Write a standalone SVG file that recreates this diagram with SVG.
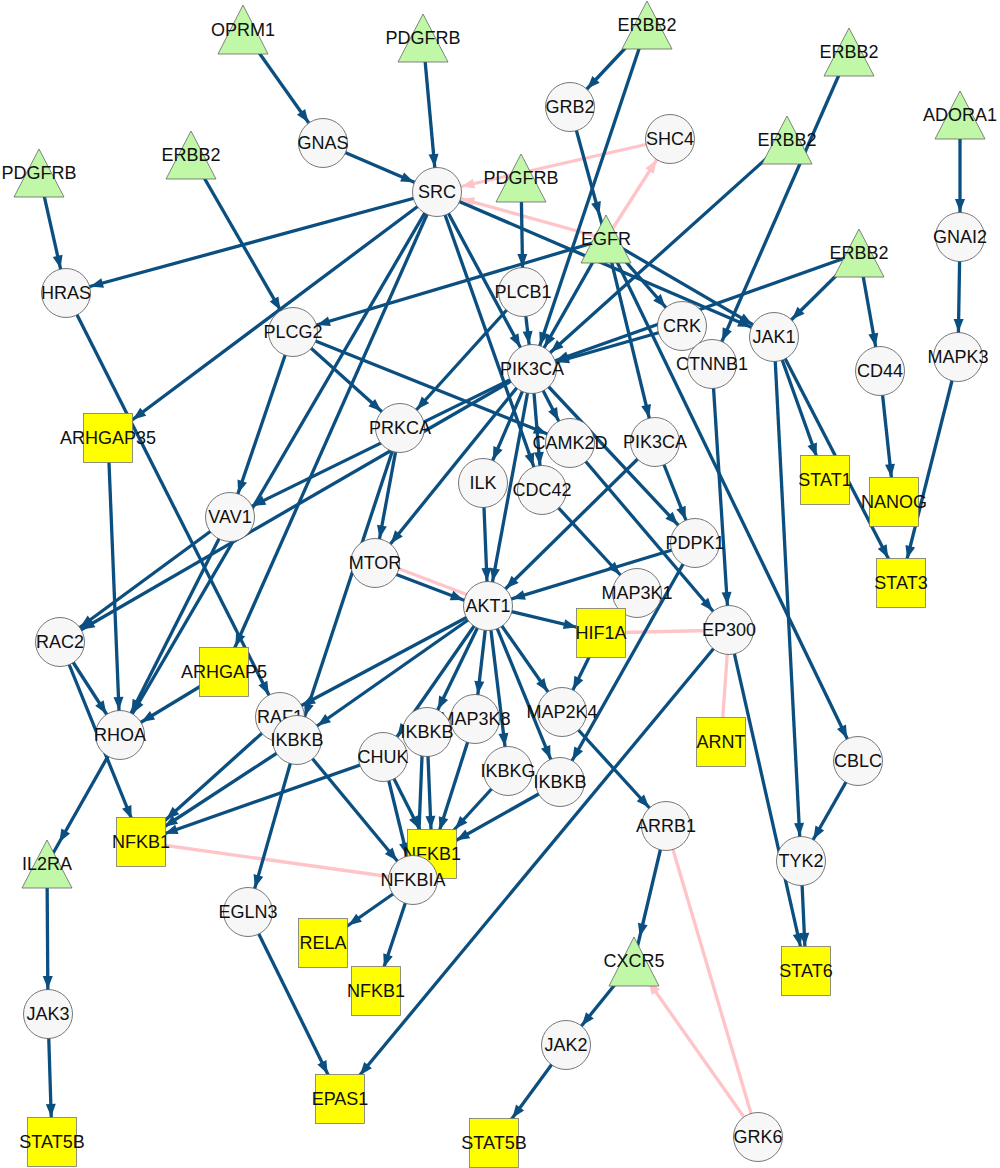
<svg xmlns="http://www.w3.org/2000/svg" width="1000" height="1168" viewBox="0 0 1000 1168">
<style>
.e line{stroke:#0b4f80;stroke-width:3.3;fill:none}
.p line{stroke:#ffc4c8;stroke-width:3.3;fill:none}
.c{fill:#f7f7f7;stroke:#555;stroke-width:0.8}
.s{fill:#ffff00;stroke:#777;stroke-width:0.8}
.t{fill:#c0f8a8;stroke:#666;stroke-width:0.8}
text{font-family:"Liberation Sans",Arial,sans-serif;font-size:18px;fill:#111;text-anchor:middle;dominant-baseline:central}
</style>
<defs>
<marker id="a25" markerUnits="userSpaceOnUse" markerWidth="14" markerHeight="11" refX="38" refY="5" orient="auto" overflow="visible"><path d="M0,0L13,5L0,10z" fill="#0b4f80"/></marker>
<marker id="a28" markerUnits="userSpaceOnUse" markerWidth="14" markerHeight="11" refX="41" refY="5" orient="auto" overflow="visible"><path d="M0,0L13,5L0,10z" fill="#0b4f80"/></marker>
<marker id="a31" markerUnits="userSpaceOnUse" markerWidth="14" markerHeight="11" refX="44" refY="5" orient="auto" overflow="visible"><path d="M0,0L13,5L0,10z" fill="#0b4f80"/></marker>
<marker id="a34" markerUnits="userSpaceOnUse" markerWidth="14" markerHeight="11" refX="47" refY="5" orient="auto" overflow="visible"><path d="M0,0L13,5L0,10z" fill="#0b4f80"/></marker>
<marker id="p25" markerUnits="userSpaceOnUse" markerWidth="14" markerHeight="11" refX="38" refY="5" orient="auto" overflow="visible"><path d="M0,0L13,5L0,10z" fill="#ffc4c8"/></marker>
</defs>
<g id="connectors">
<g class="p">
<line x1="670" y1="139" x2="437" y2="192" marker-end="url(#p25)"/>
<line x1="606" y1="239" x2="437" y2="192" marker-end="url(#p25)"/>
<line x1="606" y1="239" x2="670" y2="139" marker-end="url(#p25)"/>
<line x1="601" y1="633" x2="729" y2="630"/>
<line x1="729" y1="630" x2="721" y2="742"/>
<line x1="141" y1="842" x2="413" y2="880"/>
<line x1="758" y1="1137" x2="634" y2="961" marker-end="url(#p25)"/>
<line x1="758" y1="1137" x2="666" y2="826"/>
<line x1="376" y1="560" x2="489" y2="603"/>
</g>
<g class="e">
<line x1="243" y1="30" x2="323" y2="143" marker-end="url(#a25)"/>
<line x1="323" y1="143" x2="437" y2="192" marker-end="url(#a25)"/>
<line x1="423" y1="38" x2="437" y2="192" marker-end="url(#a25)"/>
<line x1="647" y1="25" x2="570" y2="107" marker-end="url(#a25)"/>
<line x1="647" y1="25" x2="532" y2="369" marker-end="url(#a25)"/>
<line x1="570" y1="107" x2="606" y2="239" marker-end="url(#a25)"/>
<line x1="849" y1="52" x2="712" y2="364" marker-end="url(#a25)"/>
<line x1="787" y1="140" x2="532" y2="369" marker-end="url(#a25)"/>
<line x1="960" y1="115" x2="960" y2="237" marker-end="url(#a25)"/>
<line x1="960" y1="237" x2="958" y2="357" marker-end="url(#a25)"/>
<line x1="958" y1="357" x2="901" y2="583" marker-end="url(#a25)"/>
<line x1="39" y1="173" x2="66" y2="293" marker-end="url(#a25)"/>
<line x1="191" y1="155" x2="293" y2="332" marker-end="url(#a25)"/>
<line x1="521" y1="178" x2="523" y2="292" marker-end="url(#a25)"/>
<line x1="859" y1="253" x2="774" y2="337" marker-end="url(#a25)"/>
<line x1="859" y1="253" x2="880" y2="371" marker-end="url(#a25)"/>
<line x1="859" y1="253" x2="532" y2="369" marker-end="url(#a25)"/>
<line x1="880" y1="371" x2="894" y2="502" marker-end="url(#a25)"/>
<line x1="437" y1="192" x2="66" y2="293" marker-end="url(#a25)"/>
<line x1="437" y1="192" x2="108" y2="438" marker-end="url(#a31)"/>
<line x1="437" y1="192" x2="120" y2="735" marker-end="url(#a25)"/>
<line x1="437" y1="192" x2="224" y2="672" marker-end="url(#a28)"/>
<line x1="437" y1="192" x2="542" y2="490" marker-end="url(#a25)"/>
<line x1="437" y1="192" x2="532" y2="369" marker-end="url(#a25)"/>
<line x1="437" y1="192" x2="774" y2="337" marker-end="url(#a25)"/>
<line x1="606" y1="239" x2="293" y2="332" marker-end="url(#a25)"/>
<line x1="606" y1="239" x2="532" y2="369" marker-end="url(#a25)"/>
<line x1="606" y1="239" x2="682" y2="326" marker-end="url(#a25)"/>
<line x1="606" y1="239" x2="774" y2="337" marker-end="url(#a25)"/>
<line x1="606" y1="239" x2="655" y2="442" marker-end="url(#a25)"/>
<line x1="606" y1="239" x2="858" y2="761" marker-end="url(#a25)"/>
<line x1="66" y1="293" x2="280" y2="717" marker-end="url(#a25)"/>
<line x1="293" y1="332" x2="400" y2="428" marker-end="url(#a25)"/>
<line x1="293" y1="332" x2="230" y2="517" marker-end="url(#a25)"/>
<line x1="293" y1="332" x2="570" y2="443" marker-end="url(#a25)"/>
<line x1="523" y1="292" x2="400" y2="428" marker-end="url(#a25)"/>
<line x1="523" y1="292" x2="532" y2="369" marker-end="url(#a25)"/>
<line x1="682" y1="326" x2="532" y2="369" marker-end="url(#a25)"/>
<line x1="774" y1="337" x2="825" y2="480" marker-end="url(#a25)"/>
<line x1="774" y1="337" x2="901" y2="583" marker-end="url(#a28)"/>
<line x1="774" y1="337" x2="801" y2="861" marker-end="url(#a25)"/>
<line x1="712" y1="364" x2="729" y2="630" marker-end="url(#a25)"/>
<line x1="532" y1="369" x2="230" y2="517" marker-end="url(#a25)"/>
<line x1="532" y1="369" x2="60" y2="642" marker-end="url(#a25)"/>
<line x1="532" y1="369" x2="375" y2="563" marker-end="url(#a25)"/>
<line x1="532" y1="369" x2="483" y2="483" marker-end="url(#a25)"/>
<line x1="532" y1="369" x2="488" y2="606" marker-end="url(#a25)"/>
<line x1="532" y1="369" x2="542" y2="490" marker-end="url(#a25)"/>
<line x1="532" y1="369" x2="570" y2="443" marker-end="url(#a25)"/>
<line x1="532" y1="369" x2="695" y2="543" marker-end="url(#a25)"/>
<line x1="400" y1="428" x2="375" y2="563" marker-end="url(#a25)"/>
<line x1="400" y1="428" x2="297" y2="740" marker-end="url(#a25)"/>
<line x1="570" y1="443" x2="729" y2="630" marker-end="url(#a25)"/>
<line x1="655" y1="442" x2="488" y2="606" marker-end="url(#a25)"/>
<line x1="655" y1="442" x2="695" y2="543" marker-end="url(#a25)"/>
<line x1="483" y1="483" x2="488" y2="606" marker-end="url(#a25)"/>
<line x1="542" y1="490" x2="637" y2="593" marker-end="url(#a25)"/>
<line x1="230" y1="517" x2="60" y2="642" marker-end="url(#a25)"/>
<line x1="230" y1="517" x2="120" y2="735" marker-end="url(#a25)"/>
<line x1="695" y1="543" x2="488" y2="606" marker-end="url(#a25)"/>
<line x1="695" y1="543" x2="560" y2="782" marker-end="url(#a25)"/>
<line x1="374" y1="566" x2="487" y2="609" marker-end="url(#a25)"/>
<line x1="488" y1="606" x2="601" y2="633" marker-end="url(#a25)"/>
<line x1="488" y1="606" x2="280" y2="717" marker-end="url(#a25)"/>
<line x1="488" y1="606" x2="297" y2="740" marker-end="url(#a25)"/>
<line x1="488" y1="606" x2="383" y2="757" marker-end="url(#a25)"/>
<line x1="488" y1="606" x2="427" y2="732" marker-end="url(#a25)"/>
<line x1="488" y1="606" x2="475" y2="719" marker-end="url(#a25)"/>
<line x1="488" y1="606" x2="508" y2="771" marker-end="url(#a25)"/>
<line x1="488" y1="606" x2="560" y2="782" marker-end="url(#a25)"/>
<line x1="488" y1="606" x2="562" y2="712" marker-end="url(#a25)"/>
<line x1="601" y1="633" x2="562" y2="712" marker-end="url(#a25)"/>
<line x1="562" y1="712" x2="666" y2="826" marker-end="url(#a25)"/>
<line x1="729" y1="630" x2="340" y2="1099" marker-end="url(#a31)"/>
<line x1="729" y1="630" x2="806" y2="971" marker-end="url(#a25)"/>
<line x1="60" y1="642" x2="120" y2="735" marker-end="url(#a25)"/>
<line x1="60" y1="642" x2="141" y2="842" marker-end="url(#a25)"/>
<line x1="108" y1="438" x2="120" y2="735" marker-end="url(#a25)"/>
<line x1="224" y1="672" x2="120" y2="735" marker-end="url(#a25)"/>
<line x1="120" y1="735" x2="47" y2="864" marker-end="url(#a25)"/>
<line x1="47" y1="864" x2="48" y2="1014" marker-end="url(#a25)"/>
<line x1="48" y1="1014" x2="52" y2="1142" marker-end="url(#a25)"/>
<line x1="280" y1="717" x2="141" y2="842" marker-end="url(#a34)"/>
<line x1="297" y1="740" x2="141" y2="842" marker-end="url(#a28)"/>
<line x1="383" y1="757" x2="141" y2="842" marker-end="url(#a25)"/>
<line x1="297" y1="740" x2="413" y2="880" marker-end="url(#a25)"/>
<line x1="297" y1="740" x2="248" y2="912" marker-end="url(#a25)"/>
<line x1="383" y1="757" x2="432" y2="854" marker-end="url(#a28)"/>
<line x1="383" y1="757" x2="413" y2="880" marker-end="url(#a25)"/>
<line x1="427" y1="732" x2="432" y2="854" marker-end="url(#a25)"/>
<line x1="423" y1="732" x2="417" y2="880" marker-end="url(#a25)"/>
<line x1="475" y1="719" x2="432" y2="854" marker-end="url(#a25)"/>
<line x1="508" y1="771" x2="432" y2="854" marker-end="url(#a34)"/>
<line x1="560" y1="782" x2="432" y2="854" marker-end="url(#a28)"/>
<line x1="413" y1="880" x2="323" y2="943" marker-end="url(#a31)"/>
<line x1="413" y1="880" x2="376" y2="991" marker-end="url(#a25)"/>
<line x1="248" y1="912" x2="340" y2="1099" marker-end="url(#a28)"/>
<line x1="666" y1="826" x2="634" y2="961" marker-end="url(#a25)"/>
<line x1="634" y1="961" x2="566" y2="1045" marker-end="url(#a25)"/>
<line x1="566" y1="1045" x2="494" y2="1143" marker-end="url(#a31)"/>
<line x1="858" y1="761" x2="801" y2="861" marker-end="url(#a25)"/>
<line x1="801" y1="861" x2="806" y2="971" marker-end="url(#a25)"/>
</g>
</g>
<g id="nodes">
<g id="OPRM1"><polygon class="t" points="243,5 268,54 218,54"/><text x="243" y="30">OPRM1</text></g>
<g id="PDGFRB_1"><polygon class="t" points="423,14 448,62 398,62"/><text x="423" y="38">PDGFRB</text></g>
<g id="ERBB2_1"><polygon class="t" points="647,1 672,49 622,49"/><text x="647" y="25">ERBB2</text></g>
<g id="ERBB2_2"><polygon class="t" points="849,28 874,76 824,76"/><text x="849" y="52">ERBB2</text></g>
<g id="ADORA1"><polygon class="t" points="960,91 985,139 935,139"/><text x="960" y="115">ADORA1</text></g>
<g id="PDGFRB_2"><polygon class="t" points="39,149 64,197 14,197"/><text x="39" y="173">PDGFRB</text></g>
<g id="ERBB2_3"><polygon class="t" points="191,131 216,179 166,179"/><text x="191" y="155">ERBB2</text></g>
<g id="PDGFRB_3"><polygon class="t" points="521,154 546,202 496,202"/><text x="521" y="178">PDGFRB</text></g>
<g id="ERBB2_4"><polygon class="t" points="787,116 812,164 762,164"/><text x="787" y="140">ERBB2</text></g>
<g id="EGFR"><polygon class="t" points="606,215 631,263 581,263"/><text x="606" y="239">EGFR</text></g>
<g id="ERBB2_5"><polygon class="t" points="859,229 884,277 834,277"/><text x="859" y="253">ERBB2</text></g>
<g id="IL2RA"><polygon class="t" points="47,840 72,888 22,888"/><text x="47" y="864">IL2RA</text></g>
<g id="CXCR5"><polygon class="t" points="634,937 659,986 609,986"/><text x="634" y="961">CXCR5</text></g>
<g id="GNAS"><circle class="c" cx="323" cy="143" r="24.5"/><text x="323" y="143">GNAS</text></g>
<g id="GRB2"><circle class="c" cx="570" cy="107" r="24.5"/><text x="570" y="107">GRB2</text></g>
<g id="SHC4"><circle class="c" cx="670" cy="139" r="24.5"/><text x="670" y="139">SHC4</text></g>
<g id="SRC"><circle class="c" cx="437" cy="192" r="24.5"/><text x="437" y="192">SRC</text></g>
<g id="HRAS"><circle class="c" cx="66" cy="293" r="24.5"/><text x="66" y="293">HRAS</text></g>
<g id="PLCB1"><circle class="c" cx="523" cy="292" r="24.5"/><text x="523" y="292">PLCB1</text></g>
<g id="PLCG2"><circle class="c" cx="293" cy="332" r="24.5"/><text x="293" y="332">PLCG2</text></g>
<g id="CRK"><circle class="c" cx="682" cy="326" r="24.5"/><text x="682" y="326">CRK</text></g>
<g id="CTNNB1"><circle class="c" cx="712" cy="364" r="24.5"/><text x="712" y="364">CTNNB1</text></g>
<g id="JAK1"><circle class="c" cx="774" cy="337" r="24.5"/><text x="774" y="337">JAK1</text></g>
<g id="CD44"><circle class="c" cx="880" cy="371" r="24.5"/><text x="880" y="371">CD44</text></g>
<g id="GNAI2"><circle class="c" cx="960" cy="237" r="24.5"/><text x="960" y="237">GNAI2</text></g>
<g id="MAPK3"><circle class="c" cx="958" cy="357" r="24.5"/><text x="958" y="357">MAPK3</text></g>
<g id="PIK3CA_1"><circle class="c" cx="532" cy="369" r="24.5"/><text x="532" y="369">PIK3CA</text></g>
<g id="PRKCA"><circle class="c" cx="400" cy="428" r="24.5"/><text x="400" y="428">PRKCA</text></g>
<g id="CAMK2D"><circle class="c" cx="570" cy="443" r="24.5"/><text x="570" y="443">CAMK2D</text></g>
<g id="PIK3CA_2"><circle class="c" cx="655" cy="442" r="24.5"/><text x="655" y="442">PIK3CA</text></g>
<g id="ILK"><circle class="c" cx="483" cy="483" r="24.5"/><text x="483" y="483">ILK</text></g>
<g id="CDC42"><circle class="c" cx="542" cy="490" r="24.5"/><text x="542" y="490">CDC42</text></g>
<g id="VAV1"><circle class="c" cx="230" cy="517" r="24.5"/><text x="230" y="517">VAV1</text></g>
<g id="PDPK1"><circle class="c" cx="695" cy="543" r="24.5"/><text x="695" y="543">PDPK1</text></g>
<g id="MTOR"><circle class="c" cx="375" cy="563" r="24.5"/><text x="375" y="563">MTOR</text></g>
<g id="MAP3K1"><circle class="c" cx="637" cy="593" r="24.5"/><text x="637" y="593">MAP3K1</text></g>
<g id="AKT1"><circle class="c" cx="488" cy="606" r="24.5"/><text x="488" y="606">AKT1</text></g>
<g id="EP300"><circle class="c" cx="729" cy="630" r="24.5"/><text x="729" y="630">EP300</text></g>
<g id="RAC2"><circle class="c" cx="60" cy="642" r="24.5"/><text x="60" y="642">RAC2</text></g>
<g id="RHOA"><circle class="c" cx="120" cy="735" r="24.5"/><text x="120" y="735">RHOA</text></g>
<g id="RAF1"><circle class="c" cx="280" cy="717" r="24.5"/><text x="280" y="717">RAF1</text></g>
<g id="IKBKB_1"><circle class="c" cx="297" cy="740" r="24.5"/><text x="297" y="740">IKBKB</text></g>
<g id="MAP3K8"><circle class="c" cx="475" cy="719" r="24.5"/><text x="475" y="719">MAP3K8</text></g>
<g id="IKBKB_2"><circle class="c" cx="427" cy="732" r="24.5"/><text x="427" y="732">IKBKB</text></g>
<g id="CHUK"><circle class="c" cx="383" cy="757" r="24.5"/><text x="383" y="757">CHUK</text></g>
<g id="MAP2K4"><circle class="c" cx="562" cy="712" r="24.5"/><text x="562" y="712">MAP2K4</text></g>
<g id="IKBKG"><circle class="c" cx="508" cy="771" r="24.5"/><text x="508" y="771">IKBKG</text></g>
<g id="IKBKB_3"><circle class="c" cx="560" cy="782" r="24.5"/><text x="560" y="782">IKBKB</text></g>
<g id="CBLC"><circle class="c" cx="858" cy="761" r="24.5"/><text x="858" y="761">CBLC</text></g>
<g id="ARRB1"><circle class="c" cx="666" cy="826" r="24.5"/><text x="666" y="826">ARRB1</text></g>
<g id="TYK2"><circle class="c" cx="801" cy="861" r="24.5"/><text x="801" y="861">TYK2</text></g>
<g id="EGLN3"><circle class="c" cx="248" cy="912" r="24.5"/><text x="248" y="912">EGLN3</text></g>
<g id="JAK3"><circle class="c" cx="48" cy="1014" r="24.5"/><text x="48" y="1014">JAK3</text></g>
<g id="JAK2"><circle class="c" cx="566" cy="1045" r="24.5"/><text x="566" y="1045">JAK2</text></g>
<g id="GRK6"><circle class="c" cx="758" cy="1137" r="24.5"/><text x="758" y="1137">GRK6</text></g>
<g id="ARHGAP35"><rect class="s" x="83.5" y="413.5" width="49" height="49"/><text x="108" y="438">ARHGAP35</text></g>
<g id="STAT1"><rect class="s" x="800.5" y="455.5" width="49" height="49"/><text x="825" y="480">STAT1</text></g>
<g id="NANOG"><rect class="s" x="869.5" y="477.5" width="49" height="49"/><text x="894" y="502">NANOG</text></g>
<g id="STAT3"><rect class="s" x="876.5" y="558.5" width="49" height="49"/><text x="901" y="583">STAT3</text></g>
<g id="HIF1A"><rect class="s" x="576.5" y="608.5" width="49" height="49"/><text x="601" y="633">HIF1A</text></g>
<g id="ARHGAP5"><rect class="s" x="199.5" y="647.5" width="49" height="49"/><text x="224" y="672">ARHGAP5</text></g>
<g id="ARNT"><rect class="s" x="696.5" y="717.5" width="49" height="49"/><text x="721" y="742">ARNT</text></g>
<g id="NFKB1_1"><rect class="s" x="116.5" y="817.5" width="49" height="49"/><text x="141" y="842">NFKB1</text></g>
<g id="NFKB1_2"><rect class="s" x="407.5" y="829.5" width="49" height="49"/><text x="432" y="854">NFKB1</text></g>
<g id="NFKBIA"><circle class="c" cx="413" cy="880" r="24.5"/><text x="413" y="880">NFKBIA</text></g>
<g id="RELA"><rect class="s" x="298.5" y="918.5" width="49" height="49"/><text x="323" y="943">RELA</text></g>
<g id="NFKB1_3"><rect class="s" x="351.5" y="966.5" width="49" height="49"/><text x="376" y="991">NFKB1</text></g>
<g id="STAT6"><rect class="s" x="781.5" y="946.5" width="49" height="49"/><text x="806" y="971">STAT6</text></g>
<g id="EPAS1"><rect class="s" x="315.5" y="1074.5" width="49" height="49"/><text x="340" y="1099">EPAS1</text></g>
<g id="STAT5B_1"><rect class="s" x="27.5" y="1117.5" width="49" height="49"/><text x="52" y="1142">STAT5B</text></g>
<g id="STAT5B_2"><rect class="s" x="469.5" y="1118.5" width="49" height="49"/><text x="494" y="1143">STAT5B</text></g>
</g>
</svg>
